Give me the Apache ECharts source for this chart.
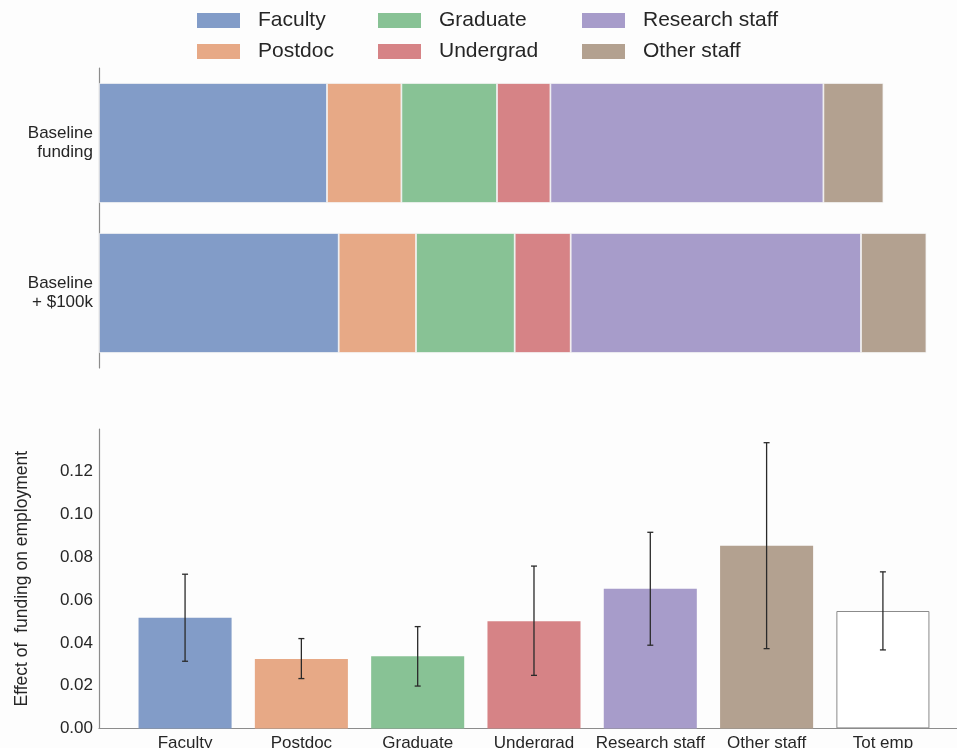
<!DOCTYPE html>
<html>
<head>
<meta charset="utf-8">
<script src="https://cdn.jsdelivr.net/npm/echarts@6/dist/echarts.min.js"></script>
<style>
  html, body { margin: 0; padding: 0; background: #fdfdfd; }
  #chart { width: 957px; height: 748px; }
</style>
</head>
<body>
<div id="chart"></div>
<script>
// Employment composition by role (stacked), per funding scenario
const roles = ['Faculty', 'Postdoc', 'Graduate', 'Undergrad', 'Research staff', 'Other staff'];
const scenarios = ['Baseline\nfunding', 'Baseline\n+ $100k'];
const baselineFunding = [2.28, 0.744, 0.956, 0.534, 2.73, 0.60];
const baselinePlus100k = [2.397, 0.773, 0.987, 0.56, 2.903, 0.654];

// Estimated effect of funding on employment, with confidence intervals
const effectCategories = ['Faculty', 'Postdoc', 'Graduate', 'Undergrad', 'Research staff', 'Other staff', 'Tot emp'];
const effectValues = [0.0517, 0.0325, 0.0337, 0.0501, 0.0653, 0.0854, 0.0549];
const effectLow    = [0.0314, 0.0233, 0.0198, 0.0248, 0.0389, 0.0373, 0.0367];
const effectHigh   = [0.0721, 0.0420, 0.0476, 0.0759, 0.0917, 0.1336, 0.0732];
const yTicks = [0, 0.02, 0.04, 0.06, 0.08, 0.10, 0.12];

// Muted palette, one colour per role; total employment is drawn hollow
const palette = ['#829CC8', '#E7A986', '#88C295', '#D68386', '#A79CCA', '#B3A190'];
const totalFill = '#ffffff';
const totalEdge = '#8a8a8a';

const textColor = '#262626';
const axisColor = '#8c8c8c';
const fontFamily = 'Liberation Sans, Arial, sans-serif';

const chart = echarts.init(document.getElementById('chart'), null, { renderer: 'canvas' });

const stackSeries = roles.map((name, i) => ({
  name: name,
  type: 'bar',
  stack: 'composition',
  xAxisIndex: 0,
  yAxisIndex: 0,
  barWidth: '80%',
  itemStyle: { color: palette[i], borderColor: '#f4f4f4', borderWidth: 0.8 },
  data: [baselineFunding[i], baselinePlus100k[i]]
}));

const effectBars = {
  type: 'bar',
  xAxisIndex: 1,
  yAxisIndex: 1,
  barWidth: '80%',
  data: effectValues.map((v, i) => ({
    value: [i, v],
    itemStyle: i < palette.length
      ? { color: palette[i] }
      : { color: totalFill, borderColor: totalEdge, borderWidth: 1 }
  }))
};

const errorBars = {
  type: 'custom',
  xAxisIndex: 1,
  yAxisIndex: 1,
  z: 5,
  data: effectLow.map((lo, i) => [i, lo, effectHigh[i]]),
  renderItem: function (params, api) {
    const top = api.coord([api.value(0), api.value(2)]);
    const bot = api.coord([api.value(0), api.value(1)]);
    const cap = 3;
    const stroke = { stroke: '#2a2a2a', lineWidth: 1.3 };
    return {
      type: 'group',
      children: [
        { type: 'line', shape: { x1: top[0], y1: top[1], x2: bot[0], y2: bot[1] }, style: stroke },
        { type: 'line', shape: { x1: top[0] - cap, y1: top[1], x2: top[0] + cap, y2: top[1] }, style: stroke },
        { type: 'line', shape: { x1: bot[0] - cap, y1: bot[1], x2: bot[0] + cap, y2: bot[1] }, style: stroke }
      ]
    };
  }
};

function legendBlock(names, left) {
  return {
    show: true,
    orient: 'vertical',
    left: left,
    top: 10,
    padding: 0,
    itemWidth: 43,
    itemHeight: 15,
    itemGap: 10,
    icon: 'rect',
    selectedMode: false,
    itemStyle: { borderWidth: 0 },
    data: names,
    textStyle: {
      fontFamily: fontFamily,
      fontSize: 21,
      lineHeight: 20,
      color: textColor,
      padding: [0, 0, 0, 13]
    }
  };
}

const option = {
  animation: false,
  backgroundColor: '#fdfdfd',
  legend: [
    legendBlock(['Faculty', 'Postdoc'], 197),
    legendBlock(['Graduate', 'Undergrad'], 378),
    legendBlock(['Research staff', 'Other staff'], 582)
  ],
  grid: [
    { left: 99, right: 0, top: 68, height: 300, outerBoundsMode: 'none', containLabel: false },
    { left: 99, right: 0, top: 429, height: 299.4, outerBoundsMode: 'none', containLabel: false }
  ],
  xAxis: [
    {
      gridIndex: 0,
      type: 'value',
      min: 0,
      max: 8.58,
      show: false
    },
    {
      gridIndex: 1,
      type: 'value',
      min: -0.74,
      max: 6.637,
      splitLine: { show: false },
      axisTick: { show: false },
      axisLine: { show: true, onZero: false, lineStyle: { color: axisColor, width: 1.2 } },
      axisLabel: {
        customValues: effectCategories.map((c, i) => i),
        formatter: v => effectCategories[Math.round(v)] || '',
        color: textColor,
        fontFamily: fontFamily,
        fontSize: 17,
        margin: 6
      }
    }
  ],
  yAxis: [
    {
      gridIndex: 0,
      type: 'category',
      inverse: true,
      data: scenarios,
      axisTick: { show: false },
      axisLine: { show: true, lineStyle: { color: axisColor, width: 1.2 } },
      axisLabel: {
        color: textColor,
        fontFamily: fontFamily,
        fontSize: 17,
        lineHeight: 19,
        align: 'right',
        margin: 6
      }
    },
    {
      gridIndex: 1,
      type: 'value',
      min: 0,
      max: 0.14,
      interval: 0.02,
      splitLine: { show: false },
      axisTick: { show: false },
      axisLine: { show: true, onZero: false, lineStyle: { color: axisColor, width: 1.2 } },
      axisLabel: {
        customValues: yTicks,
        formatter: v => v.toFixed(2),
        color: textColor,
        fontFamily: fontFamily,
        fontSize: 17,
        margin: 6
      },
      name: 'Effect of  funding on employment',
      nameLocation: 'middle',
      nameGap: 68,
      nameRotate: 90,
      nameTextStyle: {
        color: textColor,
        fontFamily: fontFamily,
        fontSize: 17.5
      }
    }
  ],
  series: [...stackSeries, effectBars, errorBars]
};

chart.setOption(option);
</script>
</body>
</html>
